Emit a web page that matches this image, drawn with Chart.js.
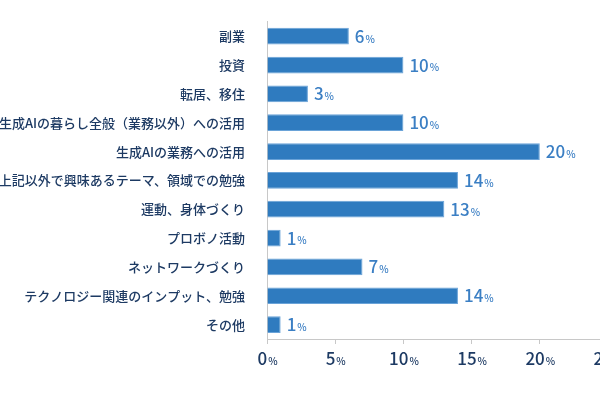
<!DOCTYPE html>
<html>
<head>
<meta charset="utf-8">
<script src="https://cdn.jsdelivr.net/npm/chart.js@4"></script>
<style>
  html, body { margin: 0; padding: 0; background: #fff; overflow: hidden; width: 600px; height: 400px; }
  canvas { display: block; }
</style>
</head>
<body>
<canvas id="chart" width="620" height="400"></canvas>
<script>
// Data
const categories = [
    '副業', '投資', '転居、移住', '生成AIの暮らし全般（業務以外）への活用', '生成AIの業務への活用',
    '上記以外で興味あるテーマ、領域での勉強', '運動、身体づくり', 'プロボノ活動',
    'ネットワークづくり', 'テクノロジー関連のインプット、勉強', 'その他'
];
const values = [6, 10, 3, 10, 20, 14, 13, 1, 7, 14, 1];
const xTicks = [0, 5, 10, 15, 20, 25];

const FONT = '"Noto Sans CJK JP", "Noto Sans", sans-serif';
const NAVY = '#1d3a63';
const BLUE = '#3b7fc4';

// Draw a number followed by a small "%"
function drawPercent(ctx, text, x, y, size, color, align) {
    ctx.save();
    ctx.fillStyle = color;
    ctx.textBaseline = 'middle';
    const big = '500 ' + size + 'px ' + FONT;
    const small = '500 ' + Math.round(size * 0.6) + 'px ' + FONT;
    ctx.font = big;
    const w1 = ctx.measureText(text).width;
    ctx.font = small;
    const w2 = ctx.measureText('%').width;
    let start = x;
    if (align === 'center') start = x - (w1 + w2) / 2;
    ctx.textAlign = 'left';
    ctx.font = big;
    ctx.fillText(text, start, y);
    ctx.font = small;
    ctx.fillText('%', start + w1 + 1, y + size * 0.15);
    ctx.restore();
}

const labelPlugin = {
    id: 'labels',
    afterDatasetsDraw(chart) {
        const ctx = chart.ctx;
        const meta = chart.getDatasetMeta(0);
        meta.data.forEach((bar, i) => {
            drawPercent(ctx, String(values[i]), bar.x + 6, bar.y, 17, BLUE, 'left');
        });
        const xs = chart.scales.x;
        xTicks.forEach(t => {
            drawPercent(ctx, String(t), xs.getPixelForValue(t), chart.chartArea.bottom + 20, 17, NAVY, 'center');
        });
    }
};

new Chart(document.getElementById('chart'), {
    type: 'bar',
    data: {
        labels: categories,
        datasets: [{
            data: values,
            backgroundColor: '#2f7bbf',
            borderColor: '#6aa3d8',
            borderWidth: 1,
            borderSkipped: 'left',
            barPercentage: 0.58,
            categoryPercentage: 1
        }]
    },
    options: {
        indexAxis: 'y',
        responsive: false,
        animation: false,
        layout: { padding: { top: 12, right: 12, left: 0, bottom: 0 } },
        plugins: { legend: { display: false }, tooltip: { enabled: false } },
        scales: {
            x: {
                min: 0, max: 25,
                grid: { display: true, drawOnChartArea: false, drawTicks: true, tickLength: 5, color: '#c8c8c8' },
                border: { color: '#c8c8c8' },
                ticks: { stepSize: 5, callback: () => '', padding: 0 },
                afterFit(scale) { scale.height = 61; }
            },
            y: {
                grid: { display: false },
                border: { color: '#c8c8c8' },
                ticks: { color: NAVY, font: { family: FONT, size: 13, weight: '500' }, padding: 14 },
                afterFit(scale) { scale.width = 267; }
            }
        }
    },
    plugins: [labelPlugin]
});
</script>
</body>
</html>
